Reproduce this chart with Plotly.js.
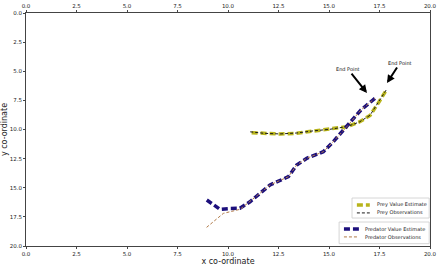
<!DOCTYPE html>
<html>
<head>
<meta charset="utf-8">
<script src="https://cdn.plot.ly/plotly-3.0.1.min.js"></script>
<style>html,body{margin:0;padding:0;background:#fff;}#chart{width:438px;height:269px;}</style>
</head>
<body>
<div id="chart"></div>
<script>
// Prey trajectory
var preyEstX = [11.17, 11.8, 12.57, 13.4, 14.21, 15.05, 15.89, 16.5, 17.03, 17.45, 17.86];
var preyEstY = [10.27, 10.35, 10.39, 10.32, 10.13, 10.0, 9.76, 9.35, 8.80, 7.7, 6.55];
var preyObsX = [11.1, 11.8, 12.57, 13.4, 14.21, 15.05, 15.89, 16.5, 17.03, 17.45, 17.86];
var preyObsY = [10.2, 10.33, 10.38, 10.3, 10.12, 9.98, 9.75, 9.36, 8.78, 7.68, 6.53];
// Predator trajectory
var predEstX = [8.95, 9.6, 10.1, 10.59, 11.09, 11.6, 12.08, 12.99, 13.4, 13.9, 14.72, 15.21, 15.88, 16.58, 17.28];
var predEstY = [16.05, 16.85, 16.78, 16.76, 16.2, 15.45, 14.76, 14.05, 13.05, 12.47, 11.91, 11.05, 9.76, 8.33, 7.32];
var predObsX = [8.94, 9.77, 10.6, 11.09, 11.6, 12.08, 12.99, 13.4, 13.9, 14.72, 15.21, 15.88, 16.58, 17.28];
var predObsY = [18.4, 17.2, 16.85, 16.2, 15.45, 14.76, 14.05, 13.05, 12.47, 11.91, 11.05, 9.76, 8.33, 7.32];
var xTicks = [0, 2.5, 5, 7.5, 10, 12.5, 15, 17.5, 20];
var xTickText = ["0.0", "2.5", "5.0", "7.5", "10.0", "12.5", "15.0", "17.5", "20.0"];
var yTicks = [0, 2.5, 5, 7.5, 10, 12.5, 15, 17.5, 20];
var yTickText = ["0.0", "2.5", "5.0", "7.5", "10.0", "12.5", "15.0", "17.5", "20.0"];
var seriesNames = ["Prey Value Estimate", "Prey Observations", "Predator Value Estimate", "Predator Observations"];
var endLabels = ["End Point", "End Point"];

var styles = [
  {color: '#b8b41c', width: 3.5, dash: '6px,3px'},
  {color: '#1a1a1a', width: 1, dash: '3px,2px'},
  {color: '#1c0f7c', width: 3.5, dash: '6px,3px'},
  {color: '#b07a48', width: 1, dash: '3px,2px'}
];

var traces = [
  {x: preyEstX, y: preyEstY, mode: 'lines', name: seriesNames[0], line: styles[0]},
  {x: preyObsX, y: preyObsY, mode: 'lines', name: seriesNames[1], line: styles[1]},
  {x: predEstX, y: predEstY, mode: 'lines', name: seriesNames[2], line: styles[2]},
  {x: predObsX, y: predObsY, mode: 'lines', name: seriesNames[3], line: styles[3]},
  {x: [0, 20], y: [0, 0], xaxis: 'x2', yaxis: 'y', mode: 'lines', showlegend: false,
   line: {width: 0, color: 'rgba(0,0,0,0)'}, hoverinfo: 'skip'}
];

// Manual legends (two boxes, as in the reference)
var legendBoxes = [
  {x0: 0.807, x1: 0.998, y0: 0.120, y1: 0.206, items: [0, 1], ys: [0.176, 0.142], lx0: 0.819, lx1: 0.851, tx: 0.864},
  {x0: 0.775, x1: 0.998, y0: 0.010, y1: 0.103, items: [2, 3], ys: [0.073, 0.039], lx0: 0.787, lx1: 0.824, tx: 0.834}
];
var shapes = [], annotations = [];
legendBoxes.forEach(function (b) {
  shapes.push({type: 'rect', xref: 'paper', yref: 'paper', x0: b.x0, x1: b.x1, y0: b.y0, y1: b.y1,
    line: {color: '#cccccc', width: 0.8}, fillcolor: '#ffffff', layer: 'above'});
  b.items.forEach(function (idx, k) {
    var st = styles[idx];
    shapes.push({type: 'line', xref: 'paper', yref: 'paper', x0: b.lx0, x1: b.lx1, y0: b.ys[k], y1: b.ys[k],
      line: {color: st.color, width: st.width, dash: st.dash}, layer: 'above'});
    annotations.push({xref: 'paper', yref: 'paper', x: b.tx, y: b.ys[k], text: seriesNames[idx],
      showarrow: false, xanchor: 'left', yanchor: 'middle',
      font: {family: 'DejaVu Sans', size: 5, color: '#222'}});
  });
});
annotations.push(
  {x: 16.88, y: 6.87, xref: 'x', yref: 'y', text: endLabels[0], showarrow: true,
   ax: -19, ay: -24, arrowhead: 2, arrowsize: 0.8, arrowwidth: 2, arrowcolor: '#000',
   font: {family: 'DejaVu Sans', size: 5, color: '#111'}},
  {x: 17.87, y: 6.01, xref: 'x', yref: 'y', text: endLabels[1], showarrow: true,
   ax: 13, ay: -20, arrowhead: 2, arrowsize: 0.8, arrowwidth: 2, arrowcolor: '#000',
   font: {family: 'DejaVu Sans', size: 5, color: '#111'}}
);

var tickFont = {family: 'DejaVu Sans', size: 5.5, color: '#222'};
var layout = {
  width: 438, height: 269,
  margin: {l: 26, r: 8, t: 13, b: 23},
  paper_bgcolor: '#fff', plot_bgcolor: '#fff',
  showlegend: false,
  xaxis: {range: [0, 20], tickvals: xTicks, ticktext: xTickText, tickfont: tickFont, automargin: false,
    showgrid: false, zeroline: false, showline: true, linecolor: '#444', linewidth: 1,
    mirror: true, ticks: 'outside', ticklen: 2, tickcolor: '#444', side: 'bottom',
    title: {text: 'x co-ordinate', font: {family: 'DejaVu Sans', size: 8, color: '#222'}, standoff: 1}},
  xaxis2: {range: [0, 20], overlaying: 'x', side: 'top', tickvals: xTicks, ticktext: xTickText, automargin: false,
    tickfont: tickFont, showgrid: false, zeroline: false, showline: false,
    ticks: 'outside', ticklen: 2, tickcolor: '#444'},
  yaxis: {range: [20, 0], tickvals: yTicks, ticktext: yTickText, tickfont: tickFont, automargin: false,
    showgrid: false, zeroline: false, showline: true, linecolor: '#444', linewidth: 1,
    mirror: true, ticks: 'outside', ticklen: 2, tickcolor: '#444',
    title: {text: 'y co-ordinate', font: {family: 'DejaVu Sans', size: 8, color: '#222'}, standoff: 2}},
  shapes: shapes,
  annotations: annotations
};

Plotly.newPlot('chart', traces, layout, {staticPlot: true, displayModeBar: false});
</script>
</body>
</html>
